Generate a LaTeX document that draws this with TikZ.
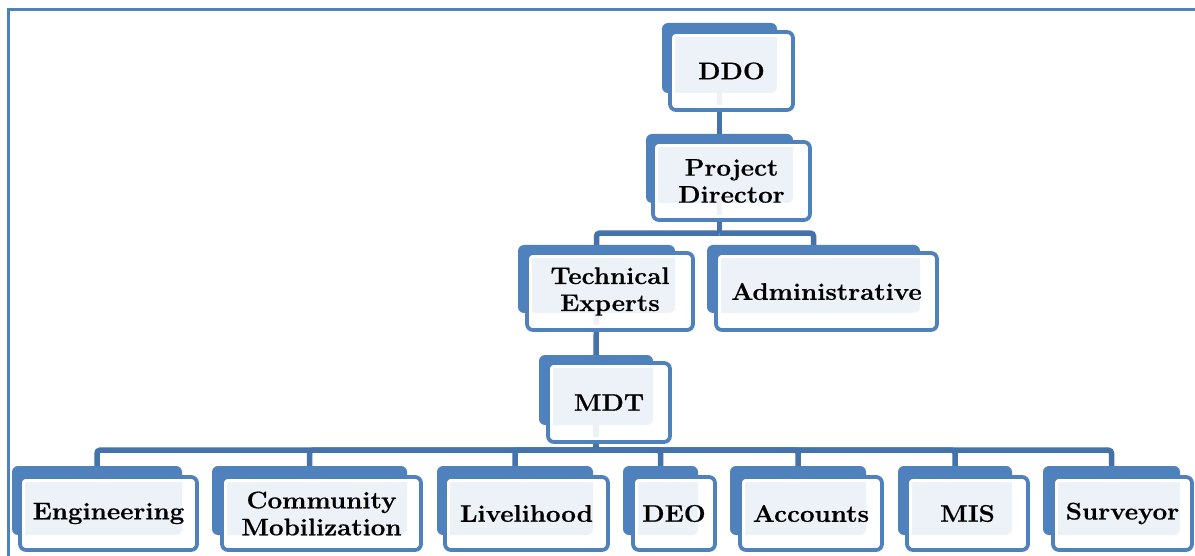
\documentclass[tikz,border=0pt]{standalone}
\usepackage{fontspec}
\newfontfamily\boxfont[FakeStretch=1.08,FakeBold=0.6]{Latin Modern Roman}
\definecolor{boxblue}{RGB}{79,129,189}
\definecolor{connblue}{RGB}{68,114,170}
\begin{document}
\begin{tikzpicture}[x=1pt,y=-1pt,
  backbox/.style={fill=boxblue, draw=none, rounded corners=6pt, inner sep=0pt},
  frontbox/.style={draw=boxblue, line width=3.8pt, fill=white, fill opacity=0.9, text opacity=1,
    rounded corners=6pt, inner sep=0pt, align=center,
    font=\boxfont\bfseries\fontsize{24}{27}\selectfont,
    path picture={\draw[white, line width=10pt, rounded corners=6pt]
      (path picture bounding box.north west) rectangle (path picture bounding box.south east);}},
  conn/.style={draw=connblue, line width=5.5pt, rounded corners=3pt},
  frame/.style={draw=boxblue, line width=3pt}]
\useasboundingbox (0,0) rectangle (1195,556);
% outer frame (left and top edges visible)
\draw[frame] (8.5,560) -- (8.5,9.5) -- (1200,9.5);

% back boxes
\node[backbox, minimum width=115pt, minimum height=70pt] (ddoB) at (719.5,58) {};
\node[backbox, minimum width=147pt, minimum height=69pt] (pdB) at (719.5,168.5) {};
\node[backbox, minimum width=157pt, minimum height=68pt] (teB) at (596.5,279) {};
\node[backbox, minimum width=213pt, minimum height=68pt] (adB) at (813.5,279) {};
\node[backbox, minimum width=114pt, minimum height=70pt] (mdtB) at (596,390) {};
\node[backbox, minimum width=170pt, minimum height=69pt] (engB) at (97,500.5) {};
\node[backbox, minimum width=195pt, minimum height=69pt] (cmB) at (309.5,500.5) {};
\node[backbox, minimum width=156pt, minimum height=69pt] (livB) at (515,500.5) {};
\node[backbox, minimum width=75pt, minimum height=69pt] (deoB) at (660.5,500.5) {};
\node[backbox, minimum width=136pt, minimum height=69pt] (accB) at (798,500.5) {};
\node[backbox, minimum width=114pt, minimum height=69pt] (misB) at (955,500.5) {};
\node[backbox, minimum width=137pt, minimum height=69pt] (surB) at (1111.5,500.5) {};

% connectors
\draw[conn] (ddoB.south) -- (pdB.north);
\draw[conn] (pdB.south) -- ++(0,30) coordinate (pbar);
\draw[conn] (pbar) -| (teB.north);
\draw[conn] (pbar) -| (adB.north);
\draw[conn] (teB.south) -- (mdtB.north);
\draw[conn] (mdtB.south) -- ++(0,25) coordinate (mbar);
\foreach \c in {engB,cmB,livB,deoB,accB,misB,surB}
  \draw[conn] (mbar) -| (\c.north);

% front boxes
\node[frontbox, minimum width=123pt, minimum height=78pt] (ddo) at (731.5,71) {DDO};
\node[frontbox, minimum width=157pt, minimum height=78pt] (pd) at (731.5,181) {Project\\Director};
\node[frontbox, minimum width=166pt, minimum height=77pt] (te) at (610,291.5) {Technical\\Experts};
\node[frontbox, minimum width=221pt, minimum height=77pt] (ad) at (826.5,291.5) {Administrative};
\node[frontbox, minimum width=122pt, minimum height=79pt] (mdt) at (609,402.5) {MDT};
\node[frontbox, minimum width=177pt, minimum height=73pt] (eng) at (108.5,513.5) {Engineering};
\node[frontbox, minimum width=199pt, minimum height=73pt] (cm) at (321.5,513.5) {Community\\Mobilization};
\node[frontbox, minimum width=163pt, minimum height=73pt] (liv) at (526.5,513.5) {Livelihood};
\node[frontbox, minimum width=82pt, minimum height=73pt] (deo) at (674,513.5) {DEO};
\node[frontbox, minimum width=142pt, minimum height=73pt] (acc) at (811,513.5) {Accounts};
\node[frontbox, minimum width=121pt, minimum height=73pt] (mis) at (967.5,513.5) {MIS};
\node[frontbox, minimum width=139pt, minimum height=73pt] (sur) at (1122.5,513.5) {Surveyor};
\end{tikzpicture}
\end{document}
